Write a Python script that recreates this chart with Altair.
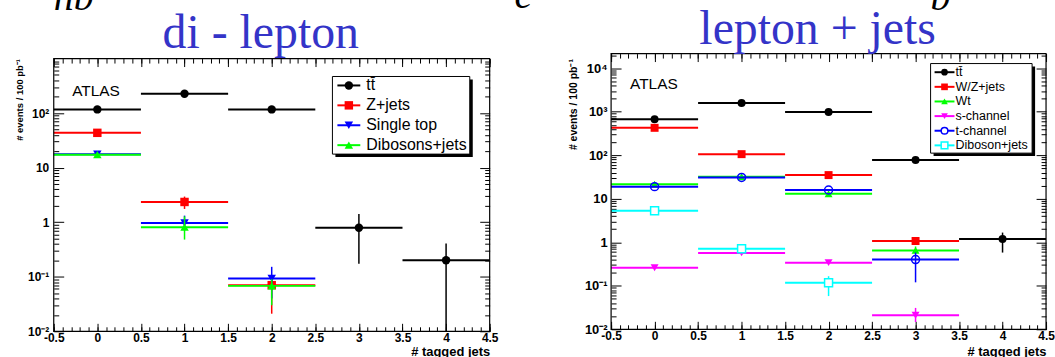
import altair as alt
import pandas as pd

FONT = "Liberation Sans"
SERIF = "Liberation Serif"
TITLE_BLUE = "#3434c8"

# ---------------- shared x axis ----------------
X_DOMAIN = [-0.5, 4.5]
X_MAJOR = [-0.5, 0, 0.5, 1, 1.5, 2, 2.5, 3, 3.5, 4, 4.5]
X_MINOR = [-0.5, -0.4, -0.3, -0.2, -0.1, 0, 0.1, 0.2, 0.3, 0.4, 0.5, 0.6, 0.7, 0.8, 0.9,
           1, 1.1, 1.2, 1.3, 1.4, 1.5, 1.6, 1.7, 1.8, 1.9, 2, 2.1, 2.2, 2.3, 2.4, 2.5,
           2.6, 2.7, 2.8, 2.9, 3, 3.1, 3.2, 3.3, 3.4, 3.5, 3.6, 3.7, 3.8, 3.9, 4,
           4.1, 4.2, 4.3, 4.4, 4.5]

# ---------------- di-lepton panel (left) ----------------
DL_TITLE = "di - lepton"
DL_NAMES = ["tt\u0304", "Z+jets", "Single top", "Dibosons+jets"]
DL_COLORS = ["#000000", "#ff0000", "#0000ff", "#00ff00"]
DL_SHAPES = ["circle", "square", "triangle-down", "triangle-up"]
DL_OPEN = [False, False, False, False]

DL_TT_X = [0, 1, 2, 3, 4]
DL_TT_Y = [117, 227, 117, 0.79, 0.20]
DL_TT_LO = [117, 227, 117, 0.173, 0.010]
DL_TT_HI = [117, 227, 117, 1.42, 0.406]

DL_Z_X = [0, 1, 2]
DL_Z_Y = [43.5, 2.35, 0.070]
DL_Z_LO = [43.5, 1.75, 0.021]
DL_Z_HI = [43.5, 2.95, 0.095]

DL_ST_X = [0, 1, 2]
DL_ST_Y = [17.7, 0.97, 0.093]
DL_ST_LO = [17.7, 0.97, 0.040]
DL_ST_HI = [17.7, 1.32, 0.152]

DL_DB_X = [0, 1, 2]
DL_DB_Y = [17.3, 0.81, 0.068]
DL_DB_LO = [17.3, 0.48, 0.030]
DL_DB_HI = [17.3, 1.28, 0.090]

DL_Y_DOMAIN = [0.01, 1000]
DL_Y_MAJOR = [0.01, 0.1, 1, 10, 100]
DL_Y_LABELS = ["10\u207b\u00b2", "10\u207b\u00b9", "1", "10", "10\u00b2"]
DL_Y_MINOR = [m * 10.0 ** e for e in range(-2, 3) for m in range(2, 10)]

# ---------------- lepton + jets panel (right) ----------------
LJ_TITLE = "lepton + jets"
LJ_NAMES = ["tt\u0304", "W/Z+jets", "Wt", "s-channel", "t-channel", "Diboson+jets"]
LJ_COLORS = ["#000000", "#ff0000", "#00ff00", "#ff00ff", "#0000ff", "#00ffff"]
LJ_SHAPES = ["circle", "square", "triangle-up", "triangle-down", "circle", "square"]
LJ_OPEN = [False, False, False, False, True, True]

LJ_TT_X = [0, 1, 2, 3, 4]
LJ_TT_Y = [673, 1590, 990, 78, 1.19]
LJ_TT_LO = [673, 1590, 990, 78, 0.58]
LJ_TT_HI = [673, 1590, 990, 78, 1.67]

LJ_WZ_X = [0, 1, 2, 3]
LJ_WZ_Y = [427, 106, 35, 1.07]
LJ_WZ_LO = [427, 106, 35, 1.07]
LJ_WZ_HI = [427, 106, 35, 1.07]

LJ_WT_X = [0, 1, 2, 3]
LJ_WT_Y = [21.6, 32, 13.0, 0.65]
LJ_WT_LO = [21.6, 32, 13.0, 0.65]
LJ_WT_HI = [21.6, 32, 13.0, 0.80]

LJ_S_X = [0, 1, 2, 3]
LJ_S_Y = [0.26, 0.57, 0.34, 0.021]
LJ_S_LO = [0.26, 0.57, 0.34, 0.0147]
LJ_S_HI = [0.26, 0.57, 0.34, 0.031]

LJ_T_X = [0, 1, 2, 3]
LJ_T_Y = [19.0, 30.9, 15.9, 0.40]
LJ_T_LO = [19.0, 30.9, 15.9, 0.12]
LJ_T_HI = [19.0, 30.9, 15.9, 0.58]

LJ_DB_X = [0, 1, 2]
LJ_DB_Y = [5.3, 0.71, 0.117]
LJ_DB_LO = [5.3, 0.71, 0.058]
LJ_DB_HI = [5.3, 0.71, 0.166]

LJ_Y_DOMAIN = [0.01, 21700]
LJ_Y_MAJOR = [0.01, 0.1, 1, 10, 100, 1000, 10000]
LJ_Y_LABELS = ["10\u207b\u00b2", "10\u207b\u00b9", "1", "10", "10\u00b2", "10\u00b3", "10\u2074"]
LJ_Y_MINOR = [m * 10.0 ** e for e in range(-2, 5) for m in range(2, 10) if m * 10.0 ** e <= 21700]

Y_TITLE = "# events / 100 pb\u207b\u00b9"
X_TITLE = "# tagged jets"

# fragments of the slide heading cut off by the top edge
DL_HEAD = ["nb"]
LJ_HEAD = ["e", "b"]


def series_df(x, y, lo, hi):
    return pd.DataFrame({"x": x, "y": y, "lo": lo, "hi": hi,
                         "xa": [v - 0.5 for v in x], "xb": [v + 0.5 for v in x]})


def label_expr(vals, labels):
    parts = [f"abs(datum.value - {v}) < {v * 1e-6} ? '{l}'" for v, l in zip(vals, labels)]
    return " : ".join(parts) + " : ''"


def panel(cfg):
    W, H, ytop = cfg["W"], cfg["H"], cfg["ytop"]
    xs = alt.Scale(domain=X_DOMAIN, nice=False, zero=False)
    ys = alt.Scale(type="log", domain=cfg["ydom"], nice=False, range=[H, ytop])
    common = dict(domain=False, grid=False, tickColor="black", tickWidth=1,
                  labelFlush=False, labelOverlap=False)

    xb_major = alt.Axis(orient="bottom", values=X_MAJOR, tickSize=8, offset=-8,
                        labelExpr="datum.value + ''", labelFont=FONT, labelFontSize=cfg["xlab"],
                        labelFontWeight="bold", labelColor="black", labelPadding=1,
                        title=X_TITLE, titleFont=FONT, titleFontSize=13, titleFontWeight="bold",
                        titleColor="black", titleAlign="right", titleBaseline="alphabetic",
                        titleX=W, titleY=cfg["xtitle_y"], **common)
    xb_minor = alt.Axis(orient="bottom", values=X_MINOR, tickSize=4.5, offset=-4.5,
                        labels=False, title=None, **common)
    xt_major = alt.Axis(orient="top", values=X_MAJOR, tickSize=8, offset=-(8 + ytop),
                        labels=False, title=None, **common)
    xt_minor = alt.Axis(orient="top", values=X_MINOR, tickSize=4.5, offset=-(4.5 + ytop),
                        labels=False, title=None, **common)
    yl_major = alt.Axis(orient="left", values=cfg["ymaj"], tickSize=10, offset=-10,
                        labelExpr=label_expr(cfg["ymaj"], cfg["ylabels"]), labelFont=FONT,
                        labelFontSize=cfg["ylab"], labelFontWeight="bold", labelColor="black",
                        labelPadding=cfg["ylabpad"],
                        title=Y_TITLE, titleFont=FONT, titleFontSize=cfg["ytitle_size"],
                        titleFontWeight="bold", titleColor="black", titleAngle=270,
                        titleAlign="right", titleBaseline="middle",
                        titleX=cfg["ytitle_x"], titleY=cfg["ytitle_y"], **common)
    yl_minor = alt.Axis(orient="left", values=cfg["ymin"], tickSize=5, offset=-5,
                        labels=False, title=None, **common)
    yr_major = alt.Axis(orient="right", values=cfg["ymaj"], tickSize=10, offset=-10,
                        labels=False, title=None, **common)
    yr_minor = alt.Axis(orient="right", values=cfg["ymin"], tickSize=5, offset=-5,
                        labels=False, title=None, **common)

    frame = pd.DataFrame({"fx0": [X_DOMAIN[0]], "fx1": [X_DOMAIN[1]],
                          "fy0": [cfg["ydom"][0]], "fy1": [cfg["ydom"][1]]})

    def carrier(xa, ya):
        return alt.Chart(frame).mark_point(opacity=0).encode(
            x=alt.X("fx0:Q", scale=xs, axis=xa), y=alt.Y("fy0:Q", scale=ys, axis=ya))

    layers = [carrier(xb_major, yl_major), carrier(xb_minor, yl_minor),
              carrier(xt_major, yr_major), carrier(xt_minor, yr_minor)]

    for name, col, shp, opn, df in zip(cfg["names"], cfg["colors"], cfg["shapes"],
                                       cfg["open"], cfg["data"]):
        layers.append(alt.Chart(df).mark_rule(color=col, strokeWidth=2).encode(
            x=alt.X("xa:Q", scale=xs, axis=None), x2="xb:Q",
            y=alt.Y("y:Q", scale=ys, axis=None)))
        err = df[df["hi"] > df["lo"]]
        if len(err):
            layers.append(alt.Chart(err).mark_rule(color=col, strokeWidth=1.5).encode(
                x=alt.X("x:Q", scale=xs, axis=None),
                y=alt.Y("lo:Q", scale=ys, axis=None), y2="hi:Q"))
        if opn:
            mk = alt.Chart(df).mark_point(shape=shp, size=cfg["msize"], filled=False,
                                          stroke=col, strokeWidth=1.5, opacity=1,
                                          fill="white" if shp == "square" else "transparent",
                                          fillOpacity=1 if shp == "square" else 0)
        else:
            mk = alt.Chart(df).mark_point(shape=shp, size=cfg["msize"], filled=True,
                                          color=col, opacity=1)
        layers.append(mk.encode(x=alt.X("x:Q", scale=xs, axis=None),
                                y=alt.Y("y:Q", scale=ys, axis=None)))

    # frame of the plot area, drawn through the scales
    layers.append(alt.Chart(frame).mark_rect(fillOpacity=0, stroke="black", strokeWidth=1.2).encode(
        x=alt.X("fx0:Q", scale=xs, axis=None), x2="fx1:Q",
        y=alt.Y("fy0:Q", scale=ys, axis=None), y2="fy1:Q"))

    # ATLAS label
    one = pd.DataFrame({"t": ["ATLAS"]})
    layers.append(alt.Chart(one).mark_text(font=FONT, fontSize=15.5, color="black",
                                           align="center", baseline="middle").encode(
        x=alt.value(cfg["atlas"][0]), y=alt.value(cfg["atlas"][1]), text="t:N"))

    # panel title
    tt = pd.DataFrame({"t": [cfg["title"]]})
    layers.append(alt.Chart(tt).mark_text(font=SERIF, fontSize=cfg["title_size"], color=TITLE_BLUE,
                                          align="center", baseline="alphabetic").encode(
        x=alt.value(cfg["title_pos"][0]), y=alt.value(cfg["title_pos"][1]), text="t:N"))

    # cut-off heading fragments
    for txt, (hx, hy) in zip(cfg["head"], cfg["head_pos"]):
        hd = pd.DataFrame({"t": [txt]})
        layers.append(alt.Chart(hd).mark_text(font=SERIF, fontSize=40, fontStyle="italic",
                                              color="black", align="left",
                                              baseline="alphabetic").encode(
            x=alt.value(hx), y=alt.value(hy), text="t:N"))

    # legend box with shadow
    lx0, ly0, lx1, ly1 = cfg["leg_box"]
    box = pd.DataFrame({"k": [0]})
    layers.append(alt.Chart(box).mark_rect(color="black").encode(
        x=alt.value(lx0 + 3), x2=alt.value(lx1 + 3), y=alt.value(ly0 + 3), y2=alt.value(ly1 + 3)))
    layers.append(alt.Chart(box).mark_rect(fill="white", stroke="black", strokeWidth=1).encode(
        x=alt.value(lx0), x2=alt.value(lx1), y=alt.value(ly0), y2=alt.value(ly1)))
    sx0, sx1, tx = cfg["leg_sym"]
    for i, (name, col, shp, opn) in enumerate(zip(cfg["names"], cfg["colors"], cfg["shapes"], cfg["open"])):
        yy = cfg["leg_y0"] + i * cfg["leg_dy"]
        row = pd.DataFrame({"t": [name]})
        layers.append(alt.Chart(row).mark_rule(color=col, strokeWidth=2).encode(
            x=alt.value(sx0), x2=alt.value(sx1), y=alt.value(yy)))
        if opn:
            lm = alt.Chart(row).mark_point(shape=shp, size=cfg["leg_msize"], filled=False,
                                           stroke=col, strokeWidth=1.5, opacity=1,
                                           fill="white", fillOpacity=1)
        else:
            lm = alt.Chart(row).mark_point(shape=shp, size=cfg["leg_msize"], filled=True,
                                           color=col, opacity=1)
        layers.append(lm.encode(x=alt.value((sx0 + sx1) / 2), y=alt.value(yy)))
        layers.append(alt.Chart(row).mark_text(font=FONT, fontSize=cfg["leg_font"], color="black",
                                               align="left", baseline="middle").encode(
            x=alt.value(tx), y=alt.value(yy), text="t:N"))

    return alt.layer(*layers).resolve_axis(x="independent", y="independent").properties(
        width=W, height=H)


left_cfg = dict(
    W=438, H=279, ytop=5, ydom=DL_Y_DOMAIN, ymaj=DL_Y_MAJOR, ylabels=DL_Y_LABELS, ymin=DL_Y_MINOR,
    names=DL_NAMES, colors=DL_COLORS, shapes=DL_SHAPES, open=DL_OPEN,
    data=[series_df(DL_TT_X, DL_TT_Y, DL_TT_LO, DL_TT_HI),
          series_df(DL_Z_X, DL_Z_Y, DL_Z_LO, DL_Z_HI),
          series_df(DL_ST_X, DL_ST_Y, DL_ST_LO, DL_ST_HI),
          series_df(DL_DB_X, DL_DB_Y, DL_DB_LO, DL_DB_HI)],
    msize=72, xlab=12, ylab=12, ylabpad=5, ytitle_size=9.5, ytitle_x=-44, ytitle_y=5,
    xtitle_y=32, atlas=(42.5, 38), title=DL_TITLE, title_size=48, title_pos=(208, -5.3),
    head=DL_HEAD, head_pos=[(0, -44)],
    leg_box=(280, 23, 418, 101), leg_sym=(285, 308, 314), leg_y0=32, leg_dy=20,
    leg_msize=72, leg_font=16,
)

right_cfg = dict(
    W=437, H=277, ytop=0, ydom=LJ_Y_DOMAIN, ymaj=LJ_Y_MAJOR, ylabels=LJ_Y_LABELS, ymin=LJ_Y_MINOR,
    names=LJ_NAMES, colors=LJ_COLORS, shapes=LJ_SHAPES, open=LJ_OPEN,
    data=[series_df(LJ_TT_X, LJ_TT_Y, LJ_TT_LO, LJ_TT_HI),
          series_df(LJ_WZ_X, LJ_WZ_Y, LJ_WZ_LO, LJ_WZ_HI),
          series_df(LJ_WT_X, LJ_WT_Y, LJ_WT_LO, LJ_WT_HI),
          series_df(LJ_S_X, LJ_S_Y, LJ_S_LO, LJ_S_HI),
          series_df(LJ_T_X, LJ_T_Y, LJ_T_LO, LJ_T_HI),
          series_df(LJ_DB_X, LJ_DB_Y, LJ_DB_LO, LJ_DB_HI)],
    msize=64, xlab=12, ylab=13, ylabpad=4, ytitle_size=10.5, ytitle_x=-48, ytitle_y=5,
    xtitle_y=34, atlas=(43, 31), title=LJ_TITLE, title_size=48, title_pos=(207.5, -9.7),
    head=LJ_HEAD, head_pos=[(-97, -46), (321, -44)],
    leg_box=(321, 10, 423, 100), leg_sym=(325, 345, 346), leg_y0=18.7, leg_dy=14.7,
    leg_msize=45, leg_font=12.5,
)

chart = alt.hconcat(panel(left_cfg), panel(right_cfg), spacing=122, bounds="flush").properties(
    padding={"left": 15, "top": -25, "right": 0, "bottom": 0},
    background="white",
).configure_view(strokeWidth=0)

chart.save("out.html", embed_options={"renderer": "svg", "actions": False})
